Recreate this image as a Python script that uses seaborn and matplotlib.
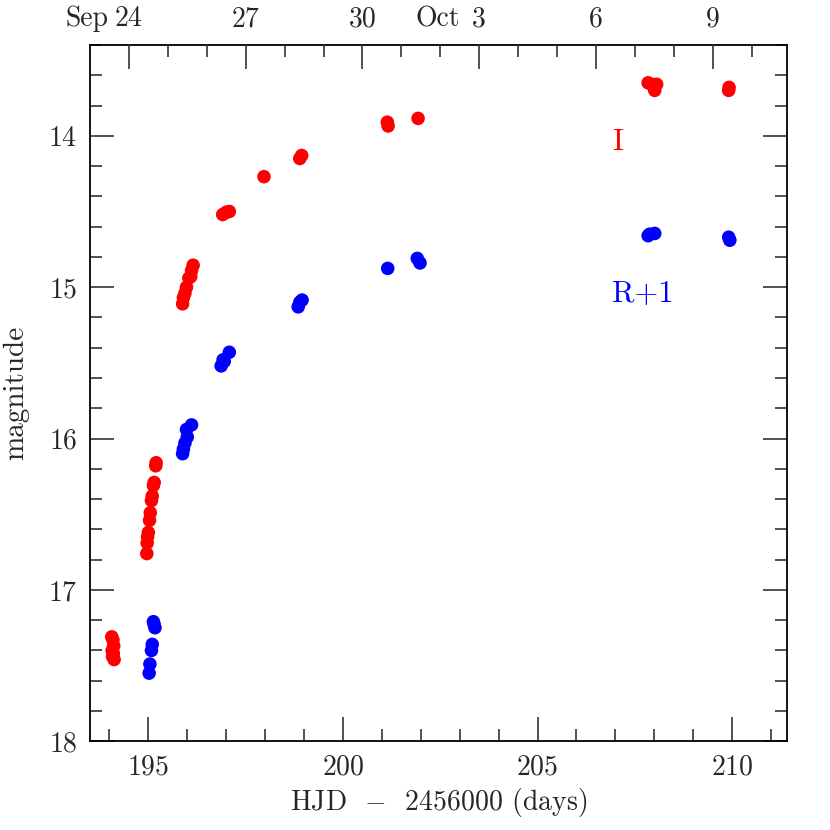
import numpy as np
import pandas as pd
import seaborn as sns
import matplotlib
matplotlib.use("Agg")
import matplotlib.pyplot as plt
from matplotlib.ticker import MultipleLocator, FixedLocator

# ---- data (HJD - 2456000, magnitude) ----
i_hjd = [194.06, 194.09, 194.11, 194.07, 194.10, 194.08, 194.12,
         194.96, 194.97, 194.98, 195.00, 195.03, 195.05, 195.08, 195.10, 195.13, 195.15, 195.19, 195.20,
         195.88, 195.90, 195.94, 195.98, 196.04, 196.09, 196.11, 196.15,
         196.91, 197.00, 197.08,
         197.97,
         198.89, 198.94,
         201.14, 201.16, 201.93,
         207.84, 207.93, 208.01, 208.06,
         209.91, 209.92]
i_mag = [17.31, 17.33, 17.37, 17.40, 17.42, 17.44, 17.46,
         16.76, 16.69, 16.65, 16.62, 16.54, 16.49, 16.41, 16.38, 16.31, 16.29, 16.18, 16.16,
         15.11, 15.07, 15.04, 15.00, 14.94, 14.93, 14.89, 14.855,
         14.52, 14.505, 14.50,
         14.27,
         14.15, 14.13,
         13.91, 13.935, 13.885,
         13.65, 13.66, 13.70, 13.66,
         13.70, 13.68]
i_err = [0.04, 0.04, 0.04, 0.04, 0.04, 0.04, 0.04,
         0.02, 0.02, 0.02, 0.02, 0.02, 0.02, 0.02, 0.02, 0.02, 0.02, 0.02, 0.02,
         0.01, 0.01, 0.01, 0.01, 0.01, 0.01, 0.01, 0.01,
         0.01, 0.01, 0.01,
         0.01,
         0.01, 0.01,
         0.01, 0.01, 0.01,
         0.01, 0.01, 0.01, 0.01,
         0.01, 0.01]

r_hjd = [195.02, 195.04, 195.08, 195.10, 195.13, 195.15, 195.17,
         195.88, 195.90, 195.94, 196.00, 195.98, 196.11,
         196.87, 196.92, 196.95, 197.08,
         198.85, 198.89, 198.95,
         201.15,
         201.91, 201.98,
         207.84, 207.88, 208.01,
         209.91, 209.94]
r_mag = [16.55, 16.49, 16.40, 16.36, 16.21, 16.23, 16.25,
         15.10, 15.07, 15.03, 14.99, 14.94, 14.91,
         14.52, 14.48, 14.49, 14.43,
         14.13, 14.10, 14.085,
         13.876,
         13.81, 13.84,
         13.66, 13.65, 13.645,
         13.67, 13.69]
r_err = [0.04, 0.04, 0.03, 0.03, 0.03, 0.03, 0.03,
         0.01, 0.01, 0.01, 0.01, 0.01, 0.01,
         0.01, 0.01, 0.01, 0.01,
         0.01, 0.01, 0.01,
         0.01,
         0.01, 0.01,
         0.01, 0.01, 0.01,
         0.01, 0.01]
r_offset = 1.0

date_ticks = [194.5, 197.5, 200.5, 203.5, 206.5, 209.5]
date_labels = ["24", "27", "30", "3", "6", "9"]
month_names = {194.5: "Sep", 203.5: "Oct"}

# ---- styling ----
sns.set_style("ticks")
plt.rcParams["font.family"] = ["cmr10", "DejaVu Serif"]
plt.rcParams["mathtext.fontset"] = "cm"
plt.rcParams["axes.formatter.use_mathtext"] = True

df = pd.concat([
    pd.DataFrame({"hjd": i_hjd, "mag": i_mag, "err": i_err, "band": "I"}),
    pd.DataFrame({"hjd": r_hjd, "mag": np.array(r_mag) + r_offset, "err": r_err, "band": "R+1"}),
], ignore_index=True)
palette = {"I": "#ff0000", "R+1": "#0000ff"}

fig = plt.figure(figsize=(8.3, 8.3), dpi=100)
ax = fig.add_axes([0.1084, 0.1069, 0.8394, 0.8389])

for band, sub in df.groupby("band"):
    ax.errorbar(sub["hjd"], sub["mag"], yerr=sub["err"], fmt="none",
                ecolor=palette[band], elinewidth=1.2, capsize=0, zorder=2)
sns.scatterplot(data=df, x="hjd", y="mag", hue="band", palette=palette,
                s=95, edgecolor="none", legend=False, ax=ax, zorder=3)

ax.set_xlim(193.5, 211.4)
ax.set_ylim(18.0, 13.4)

fs = 20
pad = 9
ax.xaxis.set_major_locator(FixedLocator([195, 200, 205, 210]))
ax.xaxis.set_minor_locator(MultipleLocator(1))
ax.yaxis.set_major_locator(MultipleLocator(1))
ax.yaxis.set_minor_locator(MultipleLocator(0.2))
ax.tick_params(axis="x", which="both", direction="in", top=False, bottom=True,
               labelsize=fs, pad=pad, color="#333333")
ax.tick_params(axis="y", which="both", direction="in", left=True, right=True,
               labelsize=fs, pad=pad, color="#333333")
ax.tick_params(which="major", length=17, width=1.2)
ax.tick_params(which="minor", length=8.5, width=1.2)
for s in ax.spines.values():
    s.set_linewidth(1.3)
    s.set_color("black")

ax.set_xlabel(r"HJD  $-$  2456000 (days)", fontsize=fs, labelpad=4)
ax.set_ylabel("magnitude", fontsize=21, labelpad=14)

ax2 = ax.twiny()
ax2.set_xlim(ax.get_xlim())
ax2.xaxis.set_major_locator(FixedLocator(date_ticks))
ax2.xaxis.set_minor_locator(FixedLocator(np.arange(194.5, 211.0, 1.0)))
ax2.set_xticklabels(date_labels)
ax2.tick_params(axis="x", which="both", direction="in", top=True, bottom=False,
                labelsize=fs, pad=pad, color="#333333")
ax2.tick_params(which="major", length=17, width=1.2)
ax2.tick_params(which="minor", length=8.5, width=1.2)
for s in ax2.spines.values():
    s.set_visible(False)

# month names to the left of the day number
for xt, lab in zip(date_ticks, date_labels):
    if xt in month_names:
        shift = 13.0 + len(lab)  # points from tick to the month name's right edge
        ax2.annotate(month_names[xt], xy=(xt, 1.0), xycoords=("data", "axes fraction"),
                     xytext=(-shift, pad), textcoords="offset points",
                     ha="right", va="bottom", fontsize=fs, annotation_clip=False)

ax.text(207.06, 14.04, "I", color="#ff0000", fontsize=22, ha="center", va="center")
ax.text(207.71, 15.04, "R+1", color="#0000ff", fontsize=22, ha="center", va="center")

fig.savefig("out.png", dpi=100)
